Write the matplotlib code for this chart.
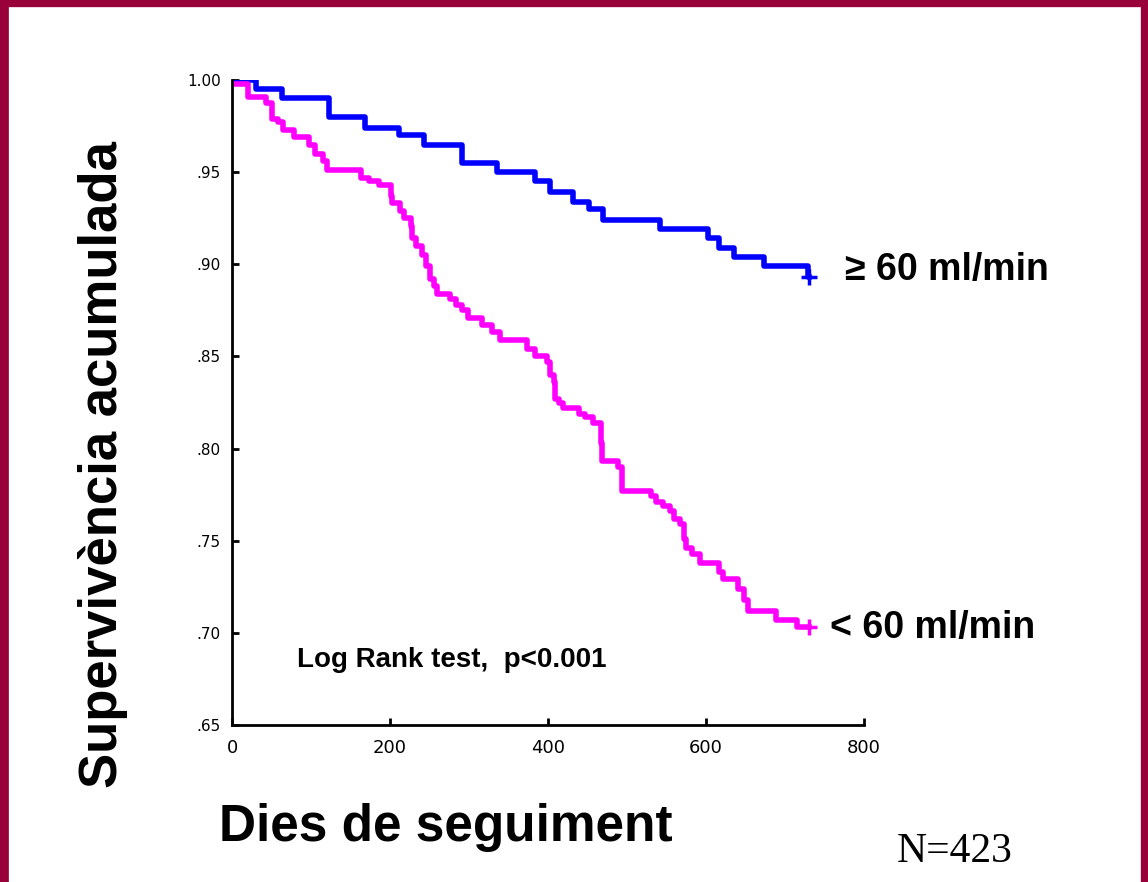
import matplotlib
matplotlib.use("Agg")
import matplotlib.pyplot as plt
from matplotlib.lines import Line2D

blue_days = [0, 31, 63, 123, 168, 211, 243, 291, 336, 384, 402, 432, 452, 469, 542, 602, 617, 635, 673, 729, 730]
blue_surv = [1.0, .995, .990, .980, .974, .970, .965, .955, .950, .945, .939, .934, .930, .924, .919, .914, .909, .904, .899, .893, .893]

mag_days = [0, 20, 43, 50, 58, 65, 78, 98, 105, 115, 120, 163, 173, 186, 201, 203, 213, 218, 226, 228, 233, 241, 246,
            251, 256, 259, 276, 284, 291, 299, 316, 329, 339, 374, 384, 399, 402, 407, 409, 414, 419, 439, 447, 457,
            467, 468, 489, 494, 530, 537, 545, 555, 560, 567, 572, 575, 582, 592, 617, 622, 640, 648, 653, 688, 715, 730]
mag_surv = [.998, .991, .9875, .979, .977, .973, .969, .965, .960, .956, .951, .947, .945, .943, .937, .933, .929, .925,
            .921, .914, .910, .905, .899, .892, .888, .884, .881, .878, .875, .871, .867, .863, .859, .854, .850, .847,
            .840, .836, .827, .825, .822, .819, .817, .814, .803, .793, .790, .777, .774, .771, .769, .766, .762, .759,
            .751, .746, .743, .738, .733, .729, .724, .718, .712, .707, .703, .703]

xticks = [0, 200, 400, 600, 800]
yticks = [0.65, 0.70, 0.75, 0.80, 0.85, 0.90, 0.95, 1.00]
ylabels = [".65", ".70", ".75", ".80", ".85", ".90", ".95", "1.00"]

W, H = 1148, 882
fig = plt.figure(figsize=(W/100, H/100), dpi=100)
bc = "#99003a"
fig.lines.extend([
    Line2D([4/W, 4/W], [0, 1], transform=fig.transFigure, color=bc, lw=7),
    Line2D([0, 1], [1-3/H, 1-3/H], transform=fig.transFigure, color=bc, lw=6),
    Line2D([1-3/W, 1-3/W], [0, 1], transform=fig.transFigure, color=bc, lw=6),
])
ax = fig.add_axes([232/W, 1-725/H, (864-232)/W, (725-80)/H])
ax.step(blue_days, blue_surv, where="post", color="#0000ff", lw=4)
ax.step(mag_days, mag_surv, where="post", color="#ff00ff", lw=4)
ax.plot([blue_days[-1]], [blue_surv[-1]], marker="+", color="#0000ff", ms=12, mew=2.5)
ax.plot([mag_days[-1]], [mag_surv[-1]], marker="+", color="#ff00ff", ms=12, mew=2.5)
ax.set_xlim(0, 800)
ax.set_ylim(0.65, 1.0)
ax.set_xticks(xticks)
ax.set_yticks(yticks)
ax.set_yticklabels(ylabels)
for s in ["top", "right"]:
    ax.spines[s].set_visible(False)
for s in ["left", "bottom"]:
    ax.spines[s].set_linewidth(2)
ax.tick_params(axis="y", labelsize=11, direction="in", length=5, width=2, pad=8)
ax.tick_params(axis="x", labelsize=13, direction="in", length=5, width=2, pad=10)

fs = "Liberation Sans"
fig.text(103/W, 1-465/H, "Supervivència acumulada", rotation=90, fontsize=38, fontweight="bold",
         family=fs, ha="center", va="center")
fig.text(446/W, 1-828/H, "Dies de seguiment", fontsize=37, fontweight="bold", family=fs, ha="center", va="center")
fig.text(955/W, 1-852/H, "N=423", fontsize=30, family="Liberation Serif", ha="center", va="center")
fig.text(845/W, 1-270/H, "≥ 60 ml/min", fontsize=27, fontweight="bold", family=[fs, "DejaVu Sans"], ha="left", va="center")
fig.text(830/W, 1-628/H, "< 60 ml/min", fontsize=27, fontweight="bold", family=fs, ha="left", va="center")
fig.text(297/W, 1-660/H, "Log Rank test,  p<0.001", fontsize=20, fontweight="bold", family=fs, ha="left", va="center")
fig.savefig("out.png", dpi=100)
